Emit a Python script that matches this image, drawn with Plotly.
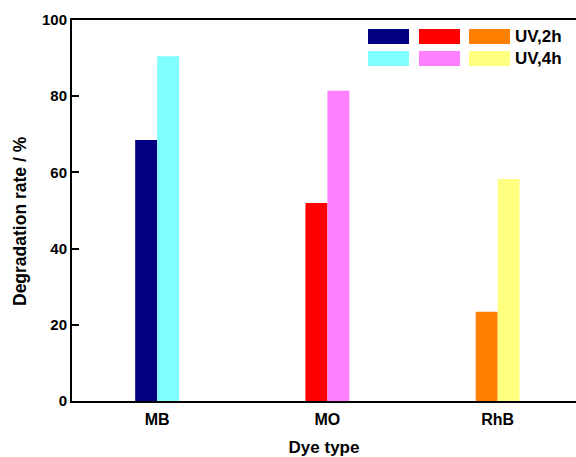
import plotly.graph_objects as go

categories = ["MB", "MO", "RhB"]
uv_2h = [68.5, 52.0, 23.4]
uv_4h = [90.5, 81.4, 58.3]
colors_2h = ["#000080", "#FF0000", "#FF8000"]
colors_4h = ["#80FFFF", "#FF80FF", "#FFFF80"]
legend_labels = ["UV,2h", "UV,4h"]
y_ticks = [0, 20, 40, 60, 80, 100]
x_title = "Dye type"
y_title = "Degradation rate / %"

FONT = "Liberation Sans, Arial, sans-serif"

fig = go.Figure()
fig.add_trace(go.Bar(x=categories, y=uv_2h, marker=dict(color=colors_2h, line=dict(width=0)),
                     name=legend_labels[0], showlegend=False))
fig.add_trace(go.Bar(x=categories, y=uv_4h, marker=dict(color=colors_4h, line=dict(width=0)),
                     name=legend_labels[1], showlegend=False))

W, H = 576, 457
ml, mt, mb = 72, 20, 56
pw, ph = W - ml, H - mt - mb
def px(x):
    return (x - ml) / pw
def py(y):
    return 1 - (y - mt) / ph

# Manual legend (3 swatches per row, label after the third)
sw_x0 = [368, 419, 469]
sw_w = 41
rows_y = [(29, 44), (51, 66)]
row_colors = [colors_2h, colors_4h]
for r, (y0, y1) in enumerate(rows_y):
    for c, x0 in enumerate(sw_x0):
        fig.add_shape(type="rect", xref="paper", yref="paper",
                      x0=px(x0), x1=px(x0 + sw_w), y0=py(y1), y1=py(y0),
                      fillcolor=row_colors[r][c], line=dict(width=0), layer="above")
    fig.add_annotation(xref="paper", yref="paper", x=px(513), y=py((y0 + y1) / 2),
                       text=legend_labels[r], showarrow=False, xanchor="left", yanchor="middle",
                       font=dict(family=FONT, size=17, color="black", weight="bold"))

# Y-axis title
fig.add_annotation(xref="paper", yref="paper", x=px(20), y=py(221), text=y_title,
                   textangle=-90, showarrow=False, xanchor="center", yanchor="middle",
                   font=dict(family=FONT, size=17.5, color="black", weight="bold"))

fig.update_layout(
    width=W, height=H,
    margin=dict(l=ml, r=0, t=mt, b=mb),
    paper_bgcolor="white", plot_bgcolor="white",
    barmode="group", bargap=0.742, bargroupgap=0,
    font=dict(family=FONT, size=14, color="black", weight="bold"),
    showlegend=False,
)
fig.update_xaxes(
    range=[-0.5, 2.46], showline=True, linecolor="black", linewidth=2, mirror=True,
    ticks="", showgrid=False, zeroline=False, ticklabelstandoff=3,
    tickfont=dict(family=FONT, size=16, color="black", weight="bold"),
    title=dict(text=x_title, font=dict(family=FONT, size=17, weight="bold"), standoff=15),
)
fig.update_yaxes(
    range=[0, 100], tickvals=y_ticks, showline=True, linecolor="black", linewidth=2,
    ticks="inside", ticklen=7, tickwidth=1.5, tickcolor="black", showgrid=False, zeroline=False,
    tickfont=dict(family=FONT, size=15, color="black", weight="bold"),
)

fig.write_html("out.html")
